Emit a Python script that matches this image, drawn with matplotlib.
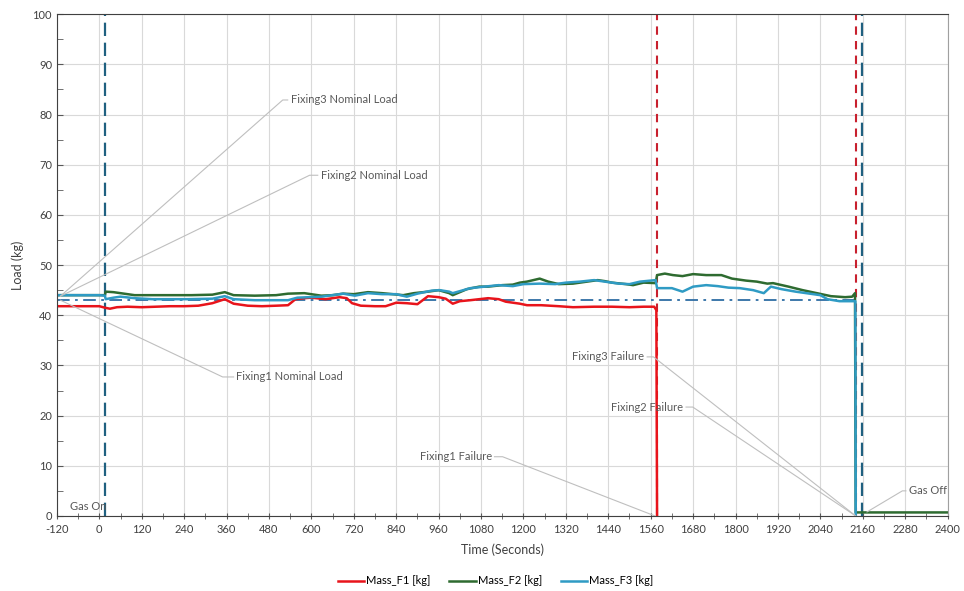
import matplotlib.pyplot as plt
from matplotlib.ticker import MultipleLocator

plt.rcParams['font.family'] = ['Lato', 'DejaVu Sans']
plt.rcParams['axes.unicode_minus'] = False

# Mass_F1 [kg]
t_f1 = [-120, -60, 0, 16, 30, 50, 80, 120, 160, 200, 240, 280, 320, 355, 380, 420,
        460, 500, 534, 555, 580, 600, 640, 680, 700, 715, 740, 780, 810, 840, 870,
        900, 930, 960, 980, 1000, 1020, 1050, 1075, 1100, 1130, 1150, 1190, 1210,
        1250, 1300, 1340, 1400, 1450, 1500, 1540, 1570, 1576, 1578]
m_f1 = [41.8, 41.8, 41.8, 41.5, 41.3, 41.6, 41.7, 41.6, 41.7, 41.8, 41.8, 41.9,
        42.4, 43.2, 42.3, 41.9, 41.8, 41.9, 42.0, 43.2, 43.4, 43.5, 43.2, 43.6,
        43.4, 42.4, 41.9, 41.8, 41.8, 42.5, 42.4, 42.2, 43.8, 43.6, 43.3, 42.3,
        42.8, 43.0, 43.2, 43.4, 43.2, 42.7, 42.3, 42.0, 42.0, 41.8, 41.6, 41.7,
        41.7, 41.6, 41.7, 41.7, 41.0, 0.0]

# Mass_F2 [kg]
t_f2 = [-120, -60, 0, 16, 18, 40, 60, 100, 140, 200, 260, 320, 355, 380, 440, 500,
        534, 580, 628, 660, 690, 720, 760, 800, 830, 860, 890, 930, 960, 990, 1000,
        1040, 1075, 1100, 1140, 1170, 1190, 1210, 1246, 1270, 1300, 1340, 1380,
        1410, 1430, 1450, 1490, 1510, 1540, 1574, 1578, 1600, 1623, 1650, 1680,
        1717, 1760, 1790, 1830, 1860, 1890, 1906, 1950, 1990, 2030, 2070, 2110,
        2130, 2138, 2140, 2400]
m_f2 = [44.0, 44.0, 44.0, 44.0, 44.7, 44.6, 44.4, 44.0, 44.0, 44.0, 44.0, 44.1,
        44.6, 44.0, 43.9, 44.0, 44.3, 44.4, 43.9, 44.0, 44.3, 44.2, 44.6, 44.4,
        44.2, 44.0, 44.4, 44.7, 45.0, 44.4, 44.0, 45.2, 45.7, 45.7, 46.0, 46.1,
        46.5, 46.7, 47.3, 46.7, 46.2, 46.3, 46.7, 47.0, 46.8, 46.5, 46.2, 46.0,
        46.5, 46.4, 48.0, 48.3, 48.0, 47.8, 48.2, 48.0, 48.0, 47.3, 46.9, 46.7,
        46.3, 46.4, 45.7, 45.0, 44.4, 43.8, 43.6, 43.7, 44.4, 0.7, 0.7]

# Mass_F3 [kg]
t_f3 = [-120, 0, 16, 18, 40, 60, 100, 150, 200, 250, 320, 355, 380, 440, 500, 534,
        560, 628, 690, 723, 760, 800, 840, 870, 900, 940, 963, 990, 1000, 1050,
        1090, 1130, 1170, 1200, 1246, 1290, 1320, 1360, 1400, 1430, 1470, 1500,
        1530, 1574, 1578, 1620, 1650, 1680, 1717, 1750, 1780, 1812, 1850, 1880,
        1900, 1930, 1970, 2000, 2040, 2060, 2094, 2139, 2140]
m_f3 = [44.0, 44.0, 43.9, 43.2, 43.5, 43.7, 43.4, 43.2, 43.2, 43.2, 43.3, 43.8,
        43.2, 43.0, 43.0, 43.0, 43.5, 43.7, 44.3, 43.9, 44.4, 44.2, 44.2, 43.7,
        44.3, 44.9, 45.0, 44.7, 44.4, 45.4, 45.7, 46.0, 45.8, 46.2, 46.3, 46.2,
        46.5, 46.7, 47.0, 46.7, 46.3, 46.2, 46.7, 47.0, 45.4, 45.4, 44.7, 45.7,
        46.0, 45.8, 45.5, 45.4, 45.0, 44.4, 45.7, 45.2, 44.7, 44.4, 44.0, 43.2,
        42.8, 42.8, 0.0]

nominal_load = 43.0
nominal_end = 2140
gas_on = 16
gas_off = 2157
failures = [1578, 2140]

fig = plt.figure(figsize=(9.64, 5.91), dpi=100)
ax = fig.add_axes([0.059, 0.127, 0.924, 0.849])

ax.set_xlim(-120, 2400)
ax.set_ylim(0, 100)
ax.xaxis.set_major_locator(MultipleLocator(120))
ax.xaxis.set_minor_locator(MultipleLocator(60))
ax.yaxis.set_major_locator(MultipleLocator(10))
ax.yaxis.set_minor_locator(MultipleLocator(5))
ax.grid(True, which='major', color='#d9d9d9', lw=0.8)
ax.set_axisbelow(True)
ax.tick_params(axis='x', which='both', direction='inout', length=5, color='#595959',
               labelsize=8, labelcolor='#404040')
ax.tick_params(axis='y', which='both', direction='in', length=4, color='#595959',
               labelsize=8, labelcolor='#404040')
for s in ['left', 'bottom', 'top']:
    ax.spines[s].set_color('#404040')
ax.spines['right'].set_color('#a0a0a0')

ax.plot([-120, nominal_end], [nominal_load, nominal_load], color='#2e6da4', lw=1.3,
        dashes=(7, 3, 1.5, 3))

ax.axvline(gas_on, color='#1f6080', lw=1.6, dashes=(6, 3))
ax.axvline(gas_off, color='#1f6080', lw=1.6, dashes=(6, 3))
for f in failures:
    ax.axvline(f, color='#c8202e', lw=1.5, dashes=(4, 3))

ax.plot(t_f1, m_f1, color='#e8141b', lw=1.8, label='Mass_F1 [kg]')
ax.plot(t_f2, m_f2, color='#2e6b30', lw=1.8, label='Mass_F2 [kg]')
ax.plot(t_f3, m_f3, color='#2f9bc4', lw=1.8, label='Mass_F3 [kg]')

leader = dict(color='#bfbfbf', lw=0.8)
txt = dict(fontsize=8, color='#595959', va='center')

def label(text, point, elbow, pos, ha):
    ax.plot([point[0], elbow[0], pos[0]], [point[1], elbow[1], elbow[1]], **leader)
    gap = 8 if ha == 'left' else -8
    ax.text(pos[0] + gap, elbow[1], text, ha=ha, **txt)

label('Fixing3 Nominal Load', (-110, 43.8), (519, 82.9), (533, 82.9), 'left')
label('Fixing2 Nominal Load', (-110, 43.8), (595, 67.9), (618, 67.9), 'left')
label('Fixing1 Nominal Load', (-110, 43.0), (349, 27.7), (380, 27.7), 'left')
label('Fixing3 Failure', (2140, 0), (1568, 31.7), (1550, 31.7), 'right')
label('Fixing2 Failure', (2140, 0), (1679, 21.7), (1660, 21.7), 'right')
label('Fixing1 Failure', (1572, 0), (1141, 11.8), (1118, 11.8), 'right')
label('Gas Off', (2172, 0.8), (2272, 5.0), (2282, 5.0), 'left')
ax.text(-83, 1.9, 'Gas On', ha='left', **txt)

ax.set_xlabel('Time (Seconds)', fontsize=9, color='#404040', labelpad=6)
ax.set_ylabel('Load (kg)', fontsize=9, color='#404040', labelpad=6)

fig.legend(loc='center', bbox_to_anchor=(0.514, 0.017), ncol=3, frameon=False,
           fontsize=8, handlelength=2.4, handletextpad=0.15, columnspacing=1.7)

fig.savefig('out.png', dpi=100)
